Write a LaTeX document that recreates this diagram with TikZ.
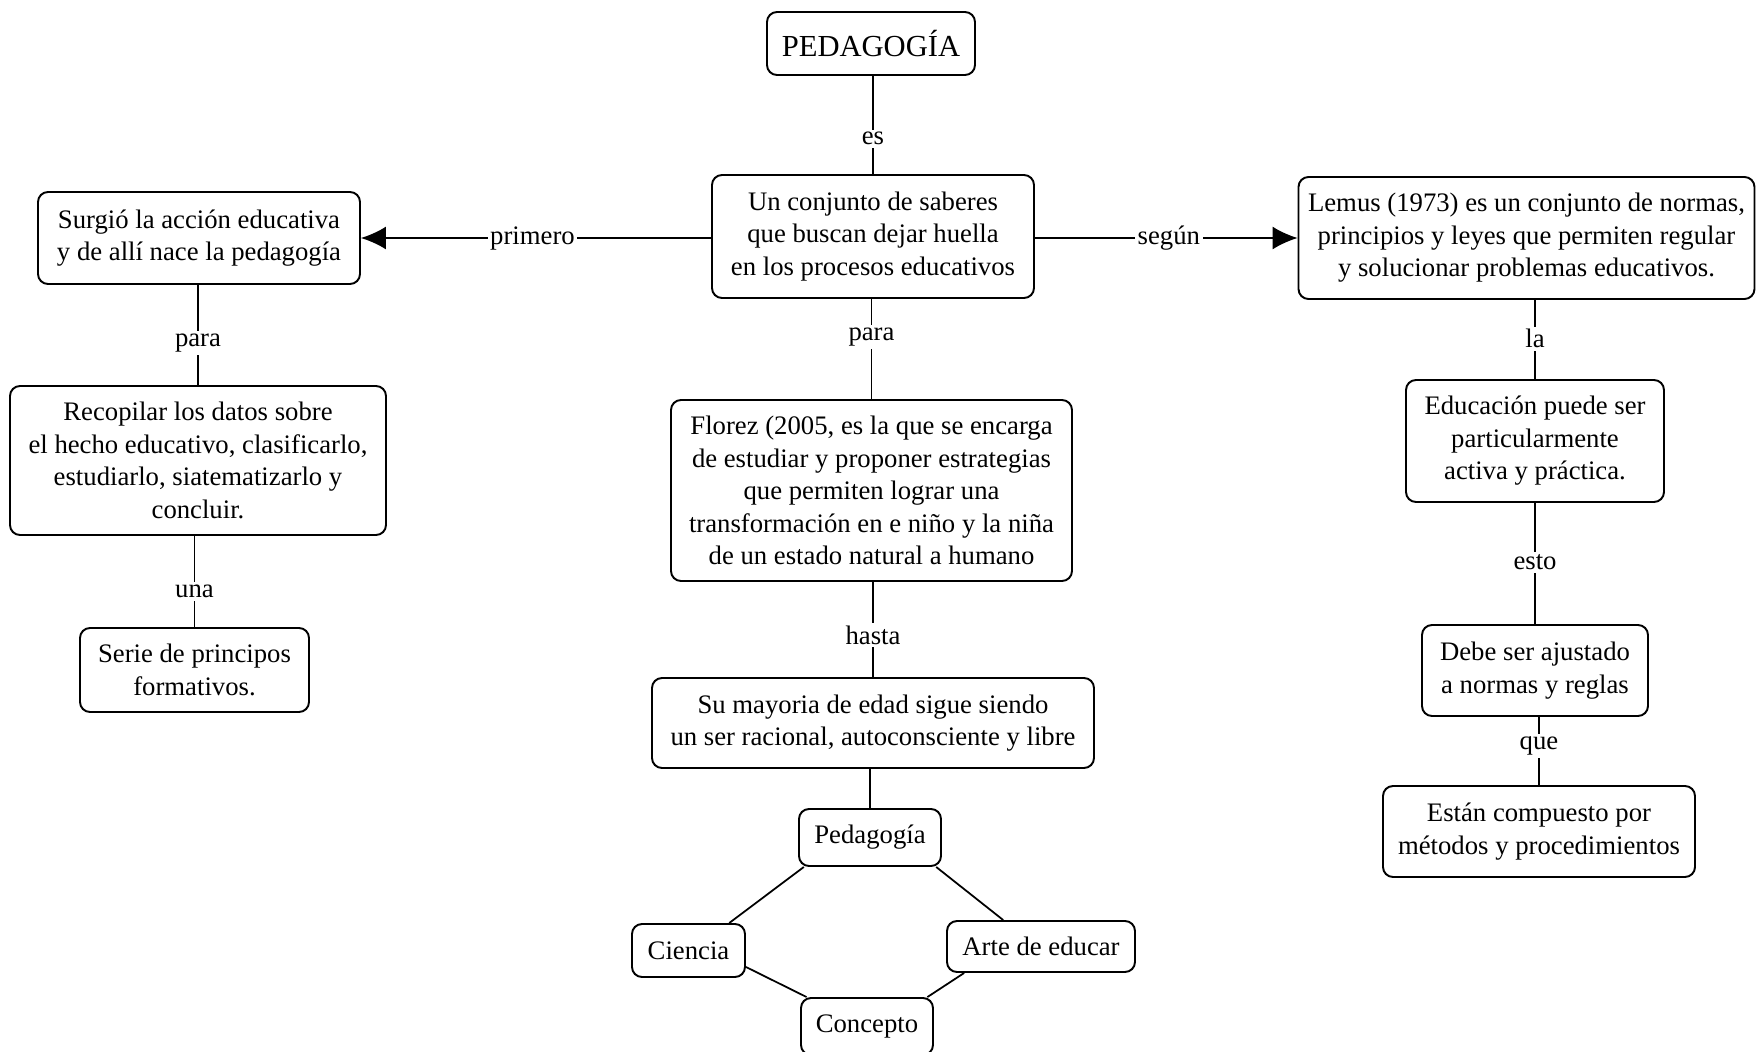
\documentclass[tikz,border=0pt]{standalone}
\usepackage{fontspec}
\setmainfont{Liberation Serif}
\usetikzlibrary{arrows.meta}

\begin{document}
\begin{tikzpicture}[>={Latex[length=5mm,width=4.6mm]},
  every node/.style={font=\fontsize{15.2}{18.5}\selectfont},
  box/.style={draw, rounded corners=0.2cm, line width=1.1pt, align=center, inner sep=2pt},
  lbl/.style={fill=white, inner sep=1.5pt},
  link/.style={line width=1pt}]
\useasboundingbox (0,0) rectangle (35.12,-21.04);
\node[box, minimum width=4.16cm, minimum height=1.26cm, font=\fontsize{17.4}{21}\selectfont] (ped) at (17.42,-0.87) {PEDAGOGÍA};
\node[box, minimum width=6.44cm, minimum height=2.46cm] (conj) at (17.46,-4.73) {Un conjunto de saberes\\que buscan dejar huella\\en los procesos educativos};
\node[box, minimum width=6.44cm, minimum height=1.84cm] (surg) at (3.98,-4.76) {Surgió la acción educativa\\y de allí nace la pedagogía};
\node[box, minimum width=7.52cm, minimum height=2.98cm] (reco) at (3.96,-9.21) {Recopilar los datos sobre\\el hecho educativo, clasificarlo,\\estudiarlo, siatematizarlo y\\concluir.};
\node[box, minimum width=4.58cm, minimum height=1.68cm] (serie) at (3.89,-13.40) {Serie de principos\\formativos.};
\node[box, minimum width=9.12cm, minimum height=2.44cm] (lemus) at (30.53,-4.76) {Lemus (1973) es un conjunto de normas,\\principios y leyes que permiten regular\\y solucionar problemas educativos.};
\node[box, minimum width=5.16cm, minimum height=2.44cm] (educ) at (30.70,-8.82) {Educación puede ser\\particularmente\\activa y práctica.};
\node[box, minimum width=4.52cm, minimum height=1.82cm] (debe) at (30.70,-13.41) {Debe ser ajustado\\a normas y reglas};
\node[box, minimum width=6.24cm, minimum height=1.82cm] (estan) at (30.78,-16.63) {Están compuesto por\\métodos y procedimientos};
\node[box, minimum width=8.02cm, minimum height=3.62cm] (flor) at (17.43,-9.81) {Florez (2005, es la que se encarga\\de estudiar y proponer estrategias\\que permiten lograr una\\transformación en e niño y la niña\\de un estado natural a humano};
\node[box, minimum width=8.84cm, minimum height=1.80cm] (suma) at (17.46,-14.46) {Su mayoria de edad sigue siendo\\un ser racional, autoconsciente y libre};
\node[box, minimum width=2.84cm, minimum height=1.14cm] (peda) at (17.40,-16.75) {Pedagogía};
\node[box, minimum width=2.26cm, minimum height=1.06cm] (cien) at (13.77,-19.01) {Ciencia};
\node[box, minimum width=3.76cm, minimum height=1.02cm] (arte) at (20.82,-18.93) {Arte de educar};
\node[box, minimum width=2.64cm, minimum height=1.14cm] (conc) at (17.34,-20.53) {Concepto};
\draw[link] (ped.south -| conj) -- node[lbl, pos=0.64] {es} (conj);
\draw[link, ->] (conj.west |- surg) -- node[lbl, pos=0.51] {primero} (surg);
\draw[link, ->] (conj.east |- lemus) -- node[lbl, pos=0.51] {según} (lemus);
\draw[link] (surg.south -| reco) -- node[lbl, pos=0.58] {para} (reco);
\draw[link] (reco.south -| serie) -- node[lbl, pos=0.61] {una} (serie);
\draw[link] (conj.south -| flor) -- node[lbl, pos=0.38] {para} (flor);
\draw[link] (flor.south -| suma) -- node[lbl, pos=0.56] {hasta} (suma);
\draw[link] (suma.south -| peda) -- (peda);
\draw[link] (lemus.south -| educ) -- node[lbl, pos=0.49] {la} (educ);
\draw[link] (educ.south -| debe) -- node[lbl, pos=0.49] {esto} (debe);
\draw[link] (debe.south -| estan) -- node[lbl, pos=0.43] {que} (estan);
\draw[link] (peda.204) -- (cien.34);
\draw[link] (peda.336) -- (arte.145);
\draw[link] (cien.344) -- (conc.154);
\draw[link] (arte.199) -- (conc.26);
\end{tikzpicture}
\end{document}
